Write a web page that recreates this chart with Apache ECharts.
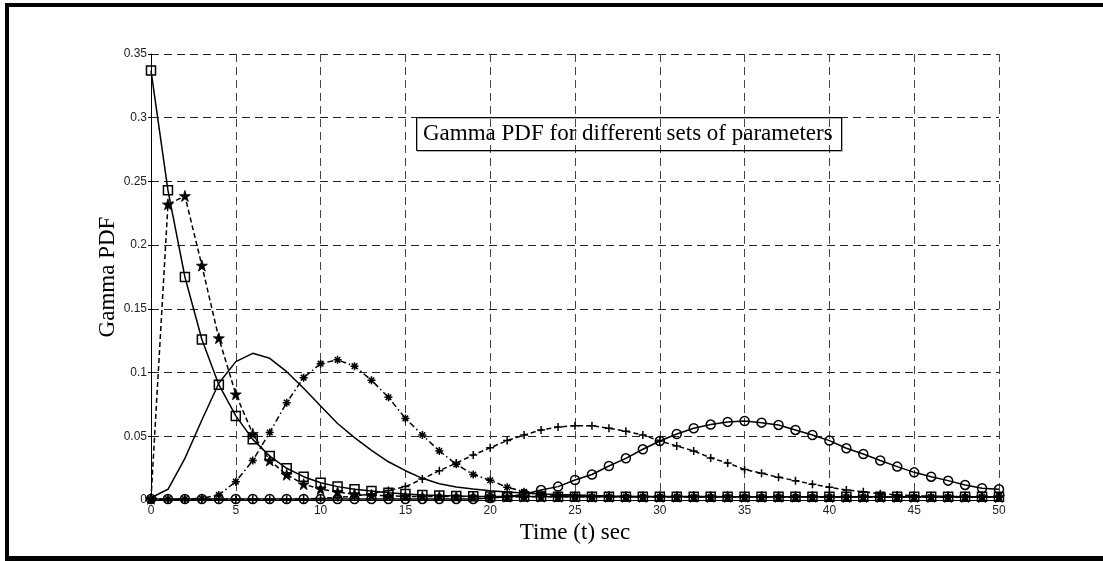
<!DOCTYPE html>
<html>
<head>
<meta charset="utf-8">
<script src="https://cdn.jsdelivr.net/npm/echarts@6/dist/echarts.min.js"></script>
<style>
html,body{margin:0;padding:0;background:#fff;}
#chart{width:1103px;height:561px;}
</style>
</head>
<body>
<div id="chart"></div>
<script>
// Time axis values (t, sec)
var tValues = [0,1,2,3,4,5,6,7,8,9,10,11,12,13,14,15,16,17,18,19,20,21,22,23,24,25,26,27,28,29,30,31,32,33,34,35,36,37,38,39,40,41,42,43,44,45,46,47,48,49,50];
var xTicks = [0,5,10,15,20,25,30,35,40,45,50];
var yTicks = [0,0.05,0.1,0.15,0.2,0.25,0.3,0.35];

// Squares, solid line
var squareSeries = [0.337,0.243,0.175,0.126,0.0905,0.066,0.0476,0.0345,0.0249,0.0183,0.0136,0.0105,0.0084,0.0071,0.0057,0.0047,0.0040,0.0035,0.0031,0.0029,0.0028,
  0.0027,0.0027,0.0027,0.0026,0.0026,0.0026,0.0026,0.0026,0.0026,0.0026,0.0026,0.0026,0.0026,0.0026,0.0025,0.0025,0.0025,0.0025,0.0025,0.0025,0.0025,0.0025,0.0025,0.0025,0.0025,0.0025,0.0025,0.0025,0.0025,0.0025];
// Pentagrams, dashed line
var starSeries = [0.001,0.232,0.2386,0.184,0.127,0.083,0.052,0.031,0.0198,0.0124,0.0086,0.0062,0.0047,0.0038,0.0032,0.0029,
  0.0027,0.0027,0.0027,0.0026,0.0026,0.0026,0.0026,0.0026,0.0026,0.0026,0.0025,0.0025,0.0025,0.0025,0.0025,0.0025,0.0025,0.0025,0.0025,0.0025,0.0025,0.0025,0.0025,0.0025,0.0024,0.0024,0.0024,0.0024,0.0024,0.0024,0.0024,0.0024,0.0024,0.0024,0.0024];
// Plain solid line (no markers)
var solidSeries = [0.0018,0.0084,0.0327,0.0628,0.0916,0.1086,0.1151,0.1112,0.1007,0.0877,0.0738,0.060,0.049,0.039,0.030,0.023,0.017,0.0128,0.0102,0.0086,0.0072,0.0062,0.0055,0.0048,0.0043,0.0039,0.0035,0.0032,0.0030,
  0.0028,0.0028,0.0027,0.0027,0.0027,0.0026,0.0026,0.0026,0.0026,0.0026,0.0026,0.0025,0.0025,0.0025,0.0025,0.0025,0.0025,0.0025,0.0025,0.0025,0.0025,0.0025];
// Asterisks, dash-dot line
var asteriskSeries = [0.0008,0.0008,0.0008,0.0012,0.004,0.0144,0.031,0.053,0.0764,0.096,0.107,0.110,0.105,0.094,0.0806,0.064,0.051,0.0385,0.028,0.020,0.0155,0.010,0.0065,0.0045,0.0035,0.003,
  0.0027,0.0027,0.0026,0.0026,0.0026,0.0026,0.0025,0.0025,0.0025,0.0025,0.0025,0.0025,0.0025,0.0025,0.0024,0.0024,0.0024,0.0024,0.0024,0.0024,0.0024,0.0024,0.0024,0.0024,0.0024];
// Plus signs, dashed line
var plusSeries = [0.0005,0.0005,0.0005,0.0005,0.0005,0.0005,0.0005,0.0005,0.0005,0.0008,0.0012,0.002,0.003,0.005,0.0075,0.0105,0.0165,0.023,0.029,0.0353,0.041,0.0466,0.051,0.055,0.0573,0.0583,0.0583,0.0563,0.054,0.051,0.0463,0.0424,0.0385,0.033,0.029,0.024,0.021,0.0178,0.0152,0.0123,0.010,0.0078,0.0065,0.0049,0.004,0.0034,0.003,0.0028,0.0026,0.0025,0.0024];
// Circles, solid line
var circleSeries = [0.0008,0.0008,0.0008,0.0008,0.0008,0.0008,0.0008,0.0008,0.0008,0.0008,0.0008,0.0008,0.0008,0.0008,0.0008,0.0008,0.0008,0.0008,0.0008,0.0008,0.0015,0.0025,0.0045,0.0078,0.0105,0.0157,0.020,0.0267,0.0327,0.0398,0.0463,0.0518,0.0563,0.0592,0.0613,0.062,0.0607,0.0589,0.055,0.051,0.0466,0.0406,0.0361,0.031,0.0262,0.0217,0.0183,0.0152,0.0118,0.0092,0.0084];

var titleText = 'Gamma PDF for different sets of parameters';
var xName = 'Time (t) sec';
var yName = 'Gamma PDF';

function pairs(vals){ return tValues.map(function(t,i){ return [t, vals[i]]; }); }

var STAR = 'path://M50,0 L61.8,36.2 L100,36.2 L69.1,58.6 L80.9,95.1 L50,72.6 L19.1,95.1 L30.9,58.6 L0,36.2 L38.2,36.2 Z';
var PLUS = 'path://M5,0 L5,10 M0,5 L10,5';
var AST = 'path://M5,0 L5,10 M0,5 L10,5 M1.5,1.5 L8.5,8.5 M8.5,1.5 L1.5,8.5';

var serif = '"Liberation Serif","Times New Roman",serif';
var sans = '"Liberation Sans",Arial,sans-serif';

function mk(name, vals, symbol, size, dash, fill, bw){
  return {
    type:'line', name:name, data:pairs(vals),
    symbol: symbol || 'none', symbolSize:size || 0, showSymbol: !!symbol,
    animation:false, silent:true,
    lineStyle:{color:'#000', width:1.5, type: dash || 'solid'},
    itemStyle:{color: fill || 'transparent', borderColor:'#000', borderWidth: bw || 1.5}
  };
}

var chart = echarts.init(document.getElementById('chart'), null, {renderer:'canvas'});
chart.setOption({
  backgroundColor:'#fff',
  animation:false,
  grid:{left:151, right:104, top:54, bottom:61, containLabel:false},
  title:{
    text:titleText, left:416, top:117,
    padding:[5,9,6,7],
    borderColor:'#000', borderWidth:1,
    shadowColor:'rgba(0,0,0,0.3)', shadowOffsetX:1, shadowOffsetY:1, shadowBlur:0,
    textStyle:{fontFamily:serif, fontSize:23, fontWeight:'normal', color:'#000'}
  },
  xAxis:{
    type:'value', min:xTicks[0], max:xTicks[xTicks.length-1], interval:5,
    name:xName, nameLocation:'middle', nameGap:21, nameMoveOverlap:false,
    nameTextStyle:{fontFamily:serif, fontSize:23, color:'#000'},
    axisLine:{show:true, lineStyle:{color:'#000', width:1}},
    axisTick:{show:true, inside:true, length:4, lineStyle:{color:'#000'}},
    axisLabel:{fontFamily:sans, fontSize:12, color:'#222', margin:5},
    splitLine:{show:true, lineStyle:{color:'#444', width:1, type:[8,5]}}
  },
  yAxis:{
    type:'value', min:yTicks[0], max:yTicks[yTicks.length-1], interval:0.05,
    name:yName, nameLocation:'middle', nameGap:32, nameRotate:90, nameMoveOverlap:false,
    nameTextStyle:{fontFamily:serif, fontSize:23, color:'#000'},
    axisLine:{show:true, lineStyle:{color:'#000', width:1}},
    axisTick:{show:true, inside:false, length:3, lineStyle:{color:'#000'}},
    axisLabel:{fontFamily:sans, fontSize:12, color:'#222', margin:4},
    splitLine:{show:true, lineStyle:{color:'#222', width:1, type:[8,5]}}
  },
  graphic:[
    {type:'rect', shape:{x:5,y:3,width:1098,height:4}, style:{fill:'#000'}, silent:true},
    {type:'rect', shape:{x:5,y:3,width:4,height:558}, style:{fill:'#000'}, silent:true},
    {type:'rect', shape:{x:5,y:556,width:1098,height:5}, style:{fill:'#000'}, silent:true}
  ],
  series:[
    mk('circles', circleSeries, 'circle', 9, 'solid'),
    mk('plus', plusSeries, PLUS, 8, [5,3]),
    mk('asterisk', asteriskSeries, AST, 8, [6,3,1.5,3]),
    mk('solid', solidSeries, null, 0, 'solid'),
    mk('stars', starSeries, STAR, 11, [5,3], '#000', 0.8),
    mk('squares', squareSeries, 'rect', 9, 'solid')
  ]
});
</script>
</body>
</html>
